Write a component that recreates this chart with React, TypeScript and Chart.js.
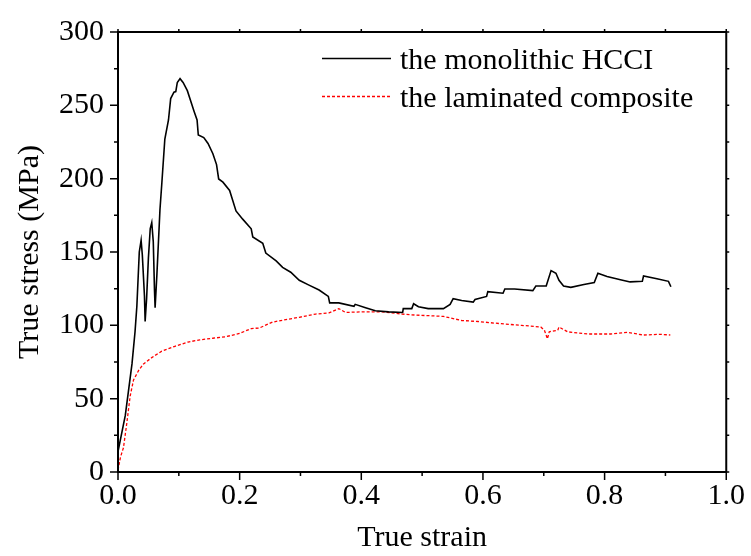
import React, { useEffect, useRef } from "react";
import { Chart, registerables } from "chart.js";

Chart.register(...registerables);

const hcciStrain = [0, 0.012, 0.023, 0.028, 0.031, 0.035, 0.038, 0.040, 0.0435, 0.0446, 0.047, 0.050, 0.053, 0.0555, 0.058, 0.060, 0.061, 0.064, 0.069, 0.072, 0.077, 0.083, 0.0866, 0.092, 0.095, 0.0975, 0.102, 0.107, 0.114, 0.121, 0.125, 0.130, 0.132, 0.141, 0.148, 0.156, 0.162, 0.1655, 0.1725, 0.1835, 0.194, 0.205, 0.219, 0.2216, 0.238, 0.243, 0.26, 0.2706, 0.284, 0.298, 0.314, 0.3306, 0.3458, 0.348, 0.363, 0.388, 0.39, 0.407, 0.423, 0.445, 0.468, 0.469, 0.483, 0.486, 0.494, 0.510, 0.535, 0.546, 0.551, 0.565, 0.584, 0.587, 0.606, 0.608, 0.633, 0.636, 0.652, 0.682, 0.687, 0.704, 0.712, 0.72, 0.725, 0.7325, 0.7445, 0.766, 0.783, 0.789, 0.804, 0.826, 0.842, 0.862, 0.864, 0.886, 0.905, 0.909];
const hcciStress = [14, 38.6, 73.7, 95.6, 113, 150, 158, 148, 120, 102.6, 118, 146, 166, 170, 157, 124, 112, 135, 179, 196.5, 227, 240, 254.6, 259, 259.4, 265.6, 268.2, 265.6, 260, 251, 246, 240, 229.8, 228, 224, 217, 209.6, 199.8, 197.6, 192, 178, 172.4, 165.8, 160.3, 156, 149.3, 143.9, 139.5, 136.2, 130.7, 127.4, 124.1, 119.7, 115.3, 115.3, 113, 114.3, 112, 109.9, 109.2, 108.8, 111.4, 111.4, 114.7, 112.7, 111.4, 111.4, 114.3, 118.2, 116.9, 115.8, 117.6, 119.7, 123, 121.9, 124.8, 124.8, 123.7, 126.8, 126.8, 137.3, 135.5, 130.7, 126.8, 125.9, 127.9, 129.1, 135.5, 133.3, 131.1, 129.6, 130, 133.6, 131.8, 130, 126.3];

const lamStrain = [0, 0.004, 0.009, 0.0147, 0.020, 0.0255, 0.034, 0.042, 0.0555, 0.072, 0.0936, 0.115, 0.1345, 0.156, 0.178, 0.2, 0.219, 0.2325, 0.254, 0.276, 0.298, 0.325, 0.347, 0.363, 0.374, 0.401, 0.434, 0.467, 0.4886, 0.51, 0.535, 0.565, 0.592, 0.63, 0.663, 0.695, 0.701, 0.706, 0.709, 0.723, 0.725, 0.739, 0.772, 0.81, 0.837, 0.864, 0.891, 0.908];
const lamStress = [1.3, 10, 16.6, 34, 51.8, 62.7, 69.3, 73.7, 78, 82.4, 85.7, 88.6, 90.1, 91.2, 92.3, 94.5, 97.8, 98.2, 102.2, 103.9, 105.5, 107.7, 108.5, 111.4, 108.8, 109.2, 109.2, 107.7, 107, 106.6, 106.1, 103.3, 102.6, 101.1, 100, 98.9, 96.7, 90.8, 95.6, 96.7, 98.9, 95.6, 94.1, 94.1, 95.2, 93.4, 93.9, 93.4];

const seriesLabels = ["the monolithic HCCI", "the laminated composite"];
const xTitle = "True strain";
const yTitle = "True stress (MPa)";

const FONT = "'Liberation Serif', 'Times New Roman', serif";

const framePlugin = {
  id: "frameTicks",
  afterDraw(chart: any) {
    const { ctx, chartArea: a, scales } = chart;
    const xs = scales.x;
    const ys = scales.y;
    ctx.save();
    ctx.strokeStyle = "#000";
    ctx.lineWidth = 2;
    ctx.strokeRect(a.left, a.top, a.right - a.left, a.bottom - a.top);
    ctx.lineWidth = 1.5;
    ctx.beginPath();
    for (let i = 0; i <= 10; i++) {
      const v = i / 10;
      const px = xs.getPixelForValue(v);
      const len = i % 2 === 0 ? 8 : 4;
      ctx.moveTo(px, a.bottom);
      ctx.lineTo(px, a.bottom + len);
      ctx.moveTo(px, a.top);
      ctx.lineTo(px, a.top - 3);
    }
    for (let i = 0; i <= 12; i++) {
      const v = i * 25;
      const py = ys.getPixelForValue(v);
      const len = i % 2 === 0 ? 8 : 4;
      ctx.moveTo(a.left, py);
      ctx.lineTo(a.left - len, py);
      ctx.moveTo(a.right, py);
      ctx.lineTo(a.right + 3, py);
    }
    ctx.stroke();

    // legend
    const ds = chart.data.datasets;
    const rows = [58.5, 96.5];
    ds.forEach((d: any, i: number) => {
      const y = rows[i];
      ctx.beginPath();
      ctx.strokeStyle = d.borderColor;
      ctx.lineWidth = d.borderWidth;
      ctx.setLineDash(d.borderDash || []);
      ctx.moveTo(322, y);
      ctx.lineTo(391, y);
      ctx.stroke();
      ctx.setLineDash([]);
      ctx.fillStyle = "#000";
      ctx.font = `30px ${FONT}`;
      ctx.textBaseline = "alphabetic";
      ctx.textAlign = "left";
      ctx.fillText(d.label, 400, y + 10);
    });
    ctx.restore();
  },
};

export default function App() {
  const ref = useRef<HTMLCanvasElement>(null);
  useEffect(() => {
    document.body.style.margin = "0";
    const canvas = ref.current!;
    const chart = new Chart(canvas, {
      type: "line",
      data: {
        datasets: [
          {
            label: seriesLabels[0],
            data: hcciStrain.map((x, i) => ({ x, y: hcciStress[i] })),
            borderColor: "#000000",
            borderWidth: 1.6,
            pointRadius: 0,
            tension: 0,
            fill: false,
          },
          {
            label: seriesLabels[1],
            data: lamStrain.map((x, i) => ({ x, y: lamStress[i] })),
            borderColor: "#ff0000",
            borderWidth: 1.3,
            borderDash: [3, 2],
            pointRadius: 0,
            tension: 0,
            fill: false,
          },
        ],
      },
      options: {
        responsive: false,
        animation: false,
        layout: { padding: { top: 16, right: 21, left: 0, bottom: 0 } },
        plugins: { legend: { display: false }, tooltip: { enabled: false } },
        scales: {
          x: {
            type: "linear",
            min: 0,
            max: 1,
            grid: { display: false, drawTicks: false },
            border: { display: false },
            ticks: {
              stepSize: 0.2,
              padding: 6,
              color: "#000",
              font: { family: FONT, size: 30 },
              maxRotation: 0,
              callback: (v: any) => Number(v).toFixed(1),
            },
            title: {
              display: true,
              text: xTitle,
              color: "#000",
              font: { family: FONT, size: 30 },
              padding: { top: 0, bottom: 0 },
            },
            afterFit: (s: any) => {
              s.height = 84;
            },
          },
          y: {
            min: 0,
            max: 300,
            grid: { display: false, drawTicks: false },
            border: { display: false },
            ticks: {
              stepSize: 50,
              padding: 14,
              color: "#000",
              font: { family: FONT, size: 30 },
            },
            title: {
              display: true,
              text: yTitle,
              color: "#000",
              font: { family: FONT, size: 30 },
              padding: { top: 12, bottom: 0 },
            },
            afterFit: (s: any) => {
              s.width = 118;
            },
          },
        },
      },
      plugins: [framePlugin],
    });
    return () => chart.destroy();
  }, []);
  return <canvas ref={ref} width={751} height={556} style={{ display: "block" }} />;
}
